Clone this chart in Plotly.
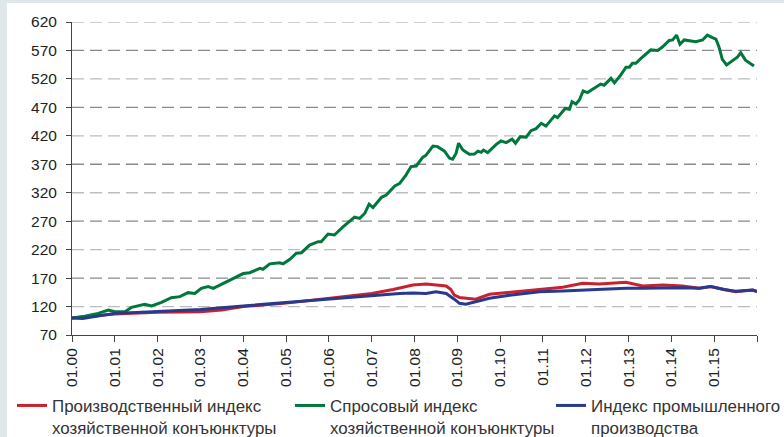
import plotly.graph_objects as go

# ---- data ----
green_t = [2000.00, 2000.30, 2000.61, 2000.85, 2001.00, 2001.24, 2001.39, 2001.70, 2001.86, 2002.09,
           2002.32, 2002.52, 2002.71, 2002.87, 2003.02, 2003.18, 2003.30, 2003.57, 2003.80, 2004.00,
           2004.15, 2004.39, 2004.46, 2004.62, 2004.85, 2004.93, 2005.09, 2005.24, 2005.36, 2005.55,
           2005.75, 2005.82, 2005.98, 2006.13, 2006.33, 2006.48, 2006.60, 2006.72, 2006.84, 2006.94,
           2007.03, 2007.23, 2007.34, 2007.54, 2007.65, 2007.80, 2007.92, 2008.04, 2008.19, 2008.27,
           2008.43, 2008.54, 2008.70, 2008.82, 2008.89, 2008.97, 2009.03, 2009.13, 2009.28, 2009.40,
           2009.48, 2009.56, 2009.61, 2009.71, 2009.91, 2010.02, 2010.14, 2010.28, 2010.36, 2010.47,
           2010.61, 2010.72, 2010.84, 2010.96, 2011.07, 2011.27, 2011.34, 2011.52, 2011.62, 2011.68,
           2011.77, 2011.85, 2011.94, 2012.04, 2012.20, 2012.35, 2012.43, 2012.59, 2012.67, 2012.82,
           2012.94, 2013.02, 2013.09, 2013.17, 2013.29, 2013.52, 2013.68, 2013.79, 2013.95, 2014.03,
           2014.12, 2014.20, 2014.30, 2014.57, 2014.73, 2014.84, 2014.96, 2015.04, 2015.11, 2015.19,
           2015.29, 2015.43, 2015.54, 2015.62, 2015.73, 2015.93]
green_v = [100, 103, 108, 114, 111, 111, 118.6, 124, 121, 127.5,
           135.6, 137.4, 144.4, 143, 152, 155, 152, 162, 169.6, 178,
           179.5, 187, 185.5, 195, 197, 195, 203, 213.6, 214.6, 228,
           234, 234, 247.5, 245.7, 260, 269, 277, 275, 284, 300,
           294, 312, 316, 332, 336, 351, 366, 367, 382, 386,
           402, 401, 393, 380.5, 379, 389, 407, 395, 387.6, 388,
           393, 391, 395, 390.5, 405, 411, 408, 414, 407, 418.5,
           417.5, 429, 432.6, 442, 437, 455, 452, 468, 466.6, 480,
           476, 483, 499, 496, 503.6, 511, 509, 521, 513, 527,
           540.5, 540.5, 547.5, 547.5, 556, 571, 570, 576, 587.5, 588.5,
           597, 581, 588.5, 585.5, 588.5, 597, 592.6, 590, 576.7, 554.5,
           544.5, 553, 558, 566, 553, 542.7]

red_t = [2000.00, 2001.00, 2002.00, 2003.00, 2003.50, 2004.00, 2005.00, 2006.00, 2006.50, 2007.00,
         2007.50, 2007.96, 2008.27, 2008.50, 2008.74, 2008.85, 2008.93, 2009.05, 2009.20, 2009.43,
         2009.75, 2010.22, 2010.92, 2011.46, 2011.93, 2012.32, 2012.94, 2013.33, 2013.80, 2014.26,
         2014.65, 2014.92, 2015.23, 2015.50, 2015.90, 2016.00]
red_v = [100, 107, 110, 111, 114, 120, 126, 134, 138, 143,
         150, 158, 159.6, 158, 156, 150, 140, 136, 134.5, 133,
         141.5, 145, 150, 154, 161, 159.6, 162.6, 156, 158, 156,
         152, 155, 150, 146, 149, 146]

blue_t = [2000.00, 2000.25, 2001.00, 2002.00, 2003.00, 2004.00, 2005.00, 2006.00, 2007.00, 2007.65,
          2007.96, 2008.27, 2008.50, 2008.74, 2008.93, 2009.05, 2009.20, 2009.43, 2009.75, 2010.22,
          2010.92, 2011.46, 2011.93, 2012.32, 2012.94, 2013.33, 2013.80, 2014.26, 2014.65, 2014.92,
          2015.23, 2015.50, 2015.90, 2016.00]
blue_v = [100, 99, 108, 111, 115, 121, 127, 133, 140, 143,
          144, 143, 146, 143, 133, 125.7, 124, 128.5, 134.5, 140,
          146, 147.3, 149, 150, 152, 152, 153, 153, 152, 155,
          150, 147, 149, 147]

names = ["Производственный индекс<br>хозяйственной конъюнктуры",
         "Спросовый индекс<br>хозяйственной конъюнктуры",
         "Индекс промышленного<br>производства"]

year_ticks = list(range(2000, 2017))
year_labels = ["01.00", "01.01", "01.02", "01.03", "01.04", "01.05", "01.06", "01.07",
               "01.08", "01.09", "01.10", "01.11", "01.12", "01.13", "01.14", "01.15", ""]
y_ticks = [70, 120, 170, 220, 270, 320, 370, 420, 470, 520, 570, 620]

# ---- styles ----
RED = "#c9222e"
GREEN = "#00773b"
BLUE = "#283a8e"
BAND = "#dfe7eb"
FONT = "Liberation Sans, Arial, sans-serif"

fig = go.Figure()
fig.add_trace(go.Scatter(x=red_t, y=red_v, mode="lines", name=names[0],
                         line=dict(color=RED, width=3), legend="legend"))
fig.add_trace(go.Scatter(x=green_t, y=green_v, mode="lines", name=names[1],
                         line=dict(color=GREEN, width=3), legend="legend2"))
fig.add_trace(go.Scatter(x=blue_t, y=blue_v, mode="lines", name=names[2],
                         line=dict(color=BLUE, width=3), legend="legend3"))

shapes = []
# thin blue-grey border band on the left and top edges
shapes.append(dict(type="rect", xref="paper", yref="paper", x0=-0.12, x1=-0.0949, y0=-0.4, y1=1.2,
                   fillcolor=BAND, line=dict(width=0), layer="below"))
shapes.append(dict(type="rect", xref="paper", yref="paper", x0=-0.12, x1=1.1, y0=1.0607, y1=1.2,
                   fillcolor=BAND, line=dict(width=0), layer="below"))
# alternating dashed gridlines
for v in y_ticks[1:]:
    col = "#bdbdbd" if (v - 120) % 100 == 0 else "#8a8a8a"
    shapes.append(dict(type="line", xref="paper", yref="y", x0=0, x1=1, y0=v, y1=v,
                       line=dict(color=col, width=1.3, dash="12px,6px"), layer="below"))

leg_common = dict(orientation="h", yanchor="top", xanchor="left", valign="top",
                  bgcolor="rgba(0,0,0,0)", font=dict(family=FONT, size=16.9, color="#333333"),
                  itemwidth=30, tracegroupgap=0)
fig.update_layout(
    width=784, height=437,
    margin=dict(l=72, r=27, t=22, b=102, autoexpand=False),
    paper_bgcolor="white",
    plot_bgcolor="white",
    font=dict(family=FONT, size=15.5, color="#222222"),
    showlegend=True,
    legend=dict(x=-0.0876, y=-0.1692, **leg_common),
    legend2=dict(x=0.3183, y=-0.1692, **leg_common),
    legend3=dict(x=0.6993, y=-0.1692, **leg_common),
    shapes=shapes,
    xaxis=dict(range=[2000, 2016], tickmode="array", tickvals=year_ticks, ticktext=year_labels,
               tickangle=-90, ticks="outside", ticklen=6, tickcolor="#444", tickwidth=1,
               showline=True, linecolor="#444", linewidth=1, showgrid=False, zeroline=False,
               automargin=False, tickfont=dict(family=FONT, size=15.5, color="#222")),
    yaxis=dict(range=[70, 620], tickmode="array", tickvals=y_ticks,
               ticks="outside", ticklen=5, tickcolor="#444", tickwidth=1,
               showline=True, linecolor="#444", linewidth=1, showgrid=False, zeroline=False,
               automargin=False, ticklabelstandoff=6, tickfont=dict(family=FONT, size=15.5, color="#222")),
)

fig.write_html("out.html", config={"displayModeBar": False},
               post_script="document.body.style.margin='0';")
